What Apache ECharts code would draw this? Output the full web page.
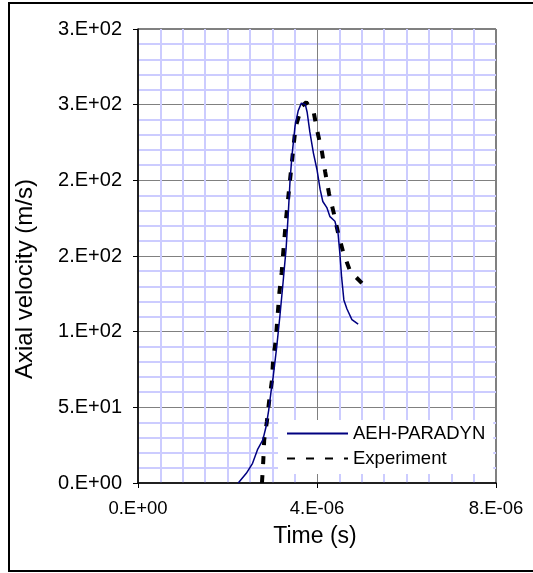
<!DOCTYPE html>
<html>
<head>
<meta charset="utf-8">
<script src="https://cdn.jsdelivr.net/npm/echarts@6/dist/echarts.min.js"></script>
<style>
  html, body { margin: 0; padding: 0; background: #fff; }
  #chart { width: 533px; height: 573px; }
</style>
</head>
<body>
<div id="chart"></div>
<script>
// AEH-PARADYN simulation (time in s, velocity in m/s)
var simTime = [2.24e-6, 2.42e-6, 2.56e-6, 2.67e-6, 2.79e-6, 2.86e-6, 2.92e-6, 2.98e-6, 3.02e-6,
  3.10e-6, 3.17e-6, 3.24e-6, 3.31e-6, 3.36e-6, 3.40e-6, 3.44e-6, 3.51e-6, 3.58e-6, 3.65e-6,
  3.69e-6, 3.74e-6, 3.78e-6, 3.84e-6, 3.92e-6, 4.00e-6, 4.07e-6, 4.13e-6, 4.22e-6, 4.29e-6,
  4.40e-6, 4.47e-6, 4.51e-6, 4.55e-6, 4.60e-6, 4.67e-6, 4.78e-6, 4.92e-6];
var simVel = [0, 6.4, 13, 22, 28.5, 37, 48, 62, 70,
  90, 110, 132, 155, 179, 201, 216, 236, 246, 251,
  252, 250, 245, 232, 218, 207, 194, 186, 182, 176,
  173, 165, 152, 136, 121, 115, 108, 105];

// Experiment
var expTime = [2.77e-6, 2.80e-6, 2.82e-6, 2.88e-6, 2.93e-6, 2.99e-6, 3.02e-6, 3.08e-6, 3.11e-6,
  3.16e-6, 3.21e-6, 3.25e-6, 3.31e-6, 3.40e-6, 3.52e-6, 3.66e-6, 3.76e-6, 3.92e-6, 4.01e-6,
  4.11e-6, 4.18e-6, 4.27e-6, 4.37e-6, 4.48e-6, 4.59e-6, 4.74e-6, 5.07e-6];
var expVel = [0, 15, 28.5, 40.6, 54, 67, 81.5, 94.7, 107,
  126, 139, 154, 175, 201, 235, 249, 251.5, 246, 232,
  219, 206, 191, 179, 164, 152, 140, 130];

var xTickLabels = ['0.E+00', '4.E-06', '8.E-06'];
var yTickLabels = ['0.E+00', '5.E+01', '1.E+02', '2.E+02', '2.E+02', '3.E+02', '3.E+02'];

var font = '"Liberation Sans", Arial, sans-serif';

function pairs(xs, ys) {
  var out = [];
  for (var i = 0; i < xs.length; i++) out.push([xs[i], ys[i]]);
  return out;
}

var chart = echarts.init(document.getElementById('chart'));

var option = {
  backgroundColor: '#fff',
  animation: false,
  grid: {
    left: 138, top: 29, right: 37, bottom: 90,
    show: true, backgroundColor: '#fff', borderColor: '#000', borderWidth: 1
  },
  xAxis: {
    type: 'value', min: 0, max: 8e-6, interval: 4e-6,
    axisLine: { lineStyle: { color: '#000', width: 1.5 } },
    axisTick: { show: true, length: 5, lineStyle: { color: '#000' } },
    axisLabel: {
      margin: 16, color: '#000', fontSize: 18.5, fontFamily: font,
      formatter: function (v) { return xTickLabels[Math.round(v / 4e-6)]; }
    },
    splitLine: { show: true, lineStyle: { color: '#808080', width: 1 } },
    minorTick: { show: false, splitNumber: 8 },
    minorSplitLine: { show: true, lineStyle: { color: '#ccccff', width: 2 } }
  },
  yAxis: {
    type: 'value', min: 0, max: 300, interval: 50,
    axisLine: { show: true, lineStyle: { color: '#000', width: 1.5 } },
    axisTick: { show: true, length: 5, lineStyle: { color: '#000' } },
    axisLabel: {
      margin: 16, color: '#000', fontSize: 20, fontFamily: font,
      formatter: function (v) { return yTickLabels[Math.round(v / 50)]; }
    },
    splitLine: { show: true, lineStyle: { color: '#808080', width: 1 } },
    minorTick: { show: false, splitNumber: 5 },
    minorSplitLine: { show: true, lineStyle: { color: '#ccccff', width: 2 } }
  },
  legend: {
    orient: 'vertical',
    left: 278, top: 420,
    padding: [4, 8, 6, 8],
    backgroundColor: '#fff',
    itemWidth: 61, itemHeight: 14, itemGap: 6,
    itemStyle: { opacity: 0 },
    textStyle: { color: '#000', fontSize: 18.5, fontFamily: font },
    data: ['AEH-PARADYN', 'Experiment']
  },
  series: [
    {
      name: 'AEH-PARADYN', type: 'line', symbol: 'none', z: 3,
      lineStyle: { color: '#000080', width: 1.5 },
      itemStyle: { color: '#000080' },
      data: pairs(simTime, simVel)
    },
    {
      name: 'Experiment', type: 'line', symbol: 'none', z: 2,
      lineStyle: { color: '#000', width: 4, type: [8, 11], cap: 'butt' },
      itemStyle: { color: '#000' },
      data: pairs(expTime, expVel)
    }
  ],
  graphic: [
    {
      type: 'rect', silent: true,
      shape: { x: 9, y: 3, width: 560, height: 568 },
      style: { fill: 'none', stroke: '#000', lineWidth: 2 }
    },
    {
      type: 'text', x: 25, y: 279, rotation: Math.PI / 2,
      style: { text: 'Axial velocity (m/s)', font: '24px ' + font, fill: '#000',
        textAlign: 'center', textVerticalAlign: 'middle' }
    },
    {
      type: 'text', x: 315, y: 537,
      style: { text: 'Time (s)', font: '23px ' + font, fill: '#000',
        textAlign: 'center', textVerticalAlign: 'middle' }
    }
  ]
};

chart.setOption(option);
</script>
</body>
</html>
